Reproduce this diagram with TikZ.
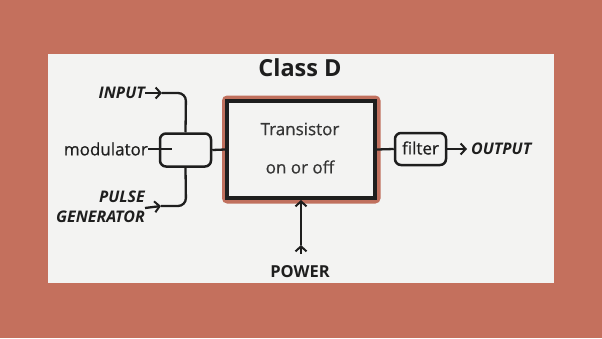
\documentclass[tikz,border=0pt]{standalone}
\usepackage{fontspec}
\setmainfont{Open Sans}
\newfontfamily\medfont[FakeBold=0.6]{Open Sans}
\usetikzlibrary{arrows.meta}
\definecolor{frame}{HTML}{C4705D}
\definecolor{panel}{HTML}{F3F3F2}
\definecolor{ink}{HTML}{1E1E1E}
\definecolor{glow}{HTML}{C0705E}
\tikzset{
  conn/.style={draw=ink, line width=2.3pt},
  tip/.style={-{Straight Barb[length=5pt,width=11pt,line width=2pt]}},
  smallbox/.style={draw=ink, line width=2.5pt, rounded corners=6pt, minimum width=51pt, minimum height=33pt, inner sep=0pt},
  lbl/.style={text=ink, inner sep=0pt, font=\medfont\fontsize{17}{20}\selectfont},
  ilbl/.style={text=ink, inner sep=0pt, font=\fontsize{16}{20}\selectfont\bfseries\itshape},
}
\begin{document}
\begin{tikzpicture}[x=1pt,y=-1pt]
\useasboundingbox (0,0) rectangle (602,338);
\fill[frame] (0,0) rectangle (602,338);
\fill[panel] (47.5,54) rectangle (554,283);
% title
\node[text=ink, inner sep=0pt, font=\fontsize{23.5}{28}\selectfont\bfseries] (title) at (300,68) {Class D};
% transistor box
\fill[glow, rounded corners=5pt] (222,95.5) rectangle (380.5,203.5);
\node[draw=ink, fill=panel, line width=4pt, minimum width=148pt, minimum height=97pt, inner sep=0pt] (tr) at (301,149.5) {};
\node[lbl, text=ink!90] (t1) at (300,129) {Transistor};
\node[lbl, text=ink!90] (t2) at (300,167) {on or off};
% modulator
\node[smallbox] (mod) at (185.5,150) {};
\node[lbl, anchor=east] (modl) at (148,149) {modulator};
\coordinate (modin) at (172,149);
\draw[conn, line width=1.2pt] (modl.east) -- (modin);
% inputs
\node[ilbl, anchor=east] (inp) at (145,93) {INPUT};
\node[ilbl, anchor=east, align=right] (pulse) at (145,207) {PULSE\\GENERATOR};
\coordinate (itip) at (162,93);
\coordinate (icorner) at (186,93);
\coordinate (ptip) at (161,206);
\coordinate (pcorner) at (186,206);
\draw[conn, tip] (inp.east) -- (itip);
\draw[conn, rounded corners=8pt] (itip) -- (icorner) -- (mod.north);
\draw[conn, tip] ([yshift=-1pt]pulse.east) -- (ptip);
\draw[conn, rounded corners=8pt] (ptip) -- (pcorner) -- (mod.south);
\draw[conn] (mod.east) -- (tr.west);
% filter
\node[smallbox, minimum height=32pt] (fil) at (420.5,149) {};
\node[lbl] (fill) at (420.5,148) {filter};
\draw[conn] (tr.east) -- (fil.west);
\node[ilbl, anchor=west] (out) at (471,149) {OUTPUT};
\coordinate (otip) at (467,149);
\draw[conn, tip] (fil.east) -- (otip);
% power
\node[text=ink, inner sep=0pt, font=\fontsize{16.5}{19}\selectfont\bfseries] (pw) at (300,272) {POWER};
\coordinate (pstart) at (301,254);
\coordinate (pmid) at (301,245);
\draw[conn, tip] (pstart) -- (pmid);
\draw[conn, tip] (pmid) -- (301,200);
\end{tikzpicture}
\end{document}
